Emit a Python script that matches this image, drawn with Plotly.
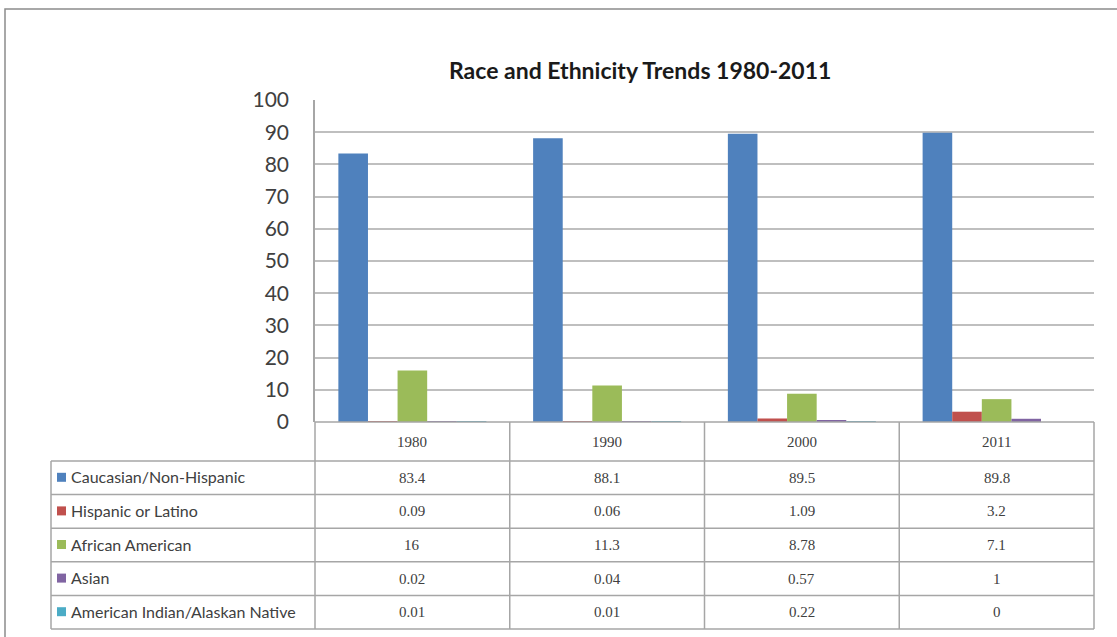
import plotly.graph_objects as go

# ---- data ----
years = ["1980", "1990", "2000", "2011"]
caucasian = [83.4, 88.1, 89.5, 89.8]
hispanic = [0.09, 0.06, 1.09, 3.2]
african_american = [16, 11.3, 8.78, 7.1]
asian = [0.02, 0.04, 0.57, 1]
american_indian = [0.01, 0.01, 0.22, 0]

series_names = [
    "Caucasian/Non-Hispanic",
    "Hispanic or Latino",
    "African American",
    "Asian",
    "American Indian/Alaskan Native",
]
series_values = [caucasian, hispanic, african_american, asian, american_indian]
series_colors = ["#4F81BD", "#C0504D", "#9BBB59", "#8064A2", "#4BACC6"]
y_ticks = list(range(0, 101, 10))
title_text = "Race and Ethnicity Trends 1980-2011"

# ---- geometry (pixels) ----
W, H = 1117, 637
L, R, T, B = 315, 1094, 100, 422  # plot area


def px(x):
    return (x - L) / (R - L)


def py(y):
    return (B - y) / (B - T)


GRID = "#BFBFBF"
LINE = "#A6A6A6"
TXT = "#404040"

fig = go.Figure()
for name, vals, col in zip(series_names, series_values, series_colors):
    fig.add_trace(go.Bar(x=years, y=vals, name=name, marker=dict(color=col, line=dict(width=0))))

shapes = []
annotations = []

# outer chart border (right and bottom edges run off the page)
shapes.append(dict(type="rect", xref="paper", yref="paper",
                   x0=px(5), x1=px(1125), y0=py(9), y1=py(660),
                   line=dict(color="#8C8C8C", width=1.5), fillcolor="rgba(0,0,0,0)"))

# data table
row_top = 461
row_h = 33.6
n_rows = len(series_names)
table_bottom = row_top + row_h * n_rows
left_x = 51

# horizontal lines
shapes.append(dict(type="line", xref="paper", yref="paper", x0=0, x1=1, y0=py(B), y1=py(B),
                   line=dict(color=LINE, width=1.5)))
for i in range(n_rows + 1):
    yy = row_top + i * row_h
    shapes.append(dict(type="line", xref="paper", yref="paper", x0=px(left_x), x1=1,
                       y0=py(yy), y1=py(yy), line=dict(color=LINE, width=1.5)))
# vertical lines
shapes.append(dict(type="line", xref="paper", yref="paper", x0=px(left_x), x1=px(left_x),
                   y0=py(row_top), y1=py(table_bottom), line=dict(color=LINE, width=1.5)))
for k in range(len(years) + 1):
    xx = k / len(years)
    shapes.append(dict(type="line", xref="paper", yref="paper", x0=xx, x1=xx,
                       y0=py(B), y1=py(table_bottom), line=dict(color=LINE, width=1.5)))

# header years
for k, yr in enumerate(years):
    annotations.append(dict(x=(k + 0.5) / len(years), y=py(442), xref="paper", yref="paper",
                            text=yr, showarrow=False, xanchor="center", yanchor="middle",
                            font=dict(family="Liberation Serif", size=15, color=TXT)))

# rows: legend key, series name, values
for i, (name, vals, col) in enumerate(zip(series_names, series_values, series_colors)):
    cy = row_top + i * row_h + row_h / 2
    shapes.append(dict(type="rect", xref="paper", yref="paper",
                       x0=px(57), x1=px(66), y0=py(cy - 5), y1=py(cy + 4),
                       line=dict(width=0), fillcolor=col))
    annotations.append(dict(x=px(69), y=py(cy - 1), xref="paper", yref="paper",
                            text=name, showarrow=False, xanchor="left", yanchor="middle",
                            font=dict(family="Lato", size=16, color=TXT)))
    for k, v in enumerate(vals):
        annotations.append(dict(x=(k + 0.5) / len(years), y=py(cy), xref="paper", yref="paper",
                                text=f"{v:g}", showarrow=False, xanchor="center", yanchor="middle",
                                font=dict(family="Liberation Serif", size=15, color=TXT)))

# title
annotations.append(dict(x=px(640), y=py(70), xref="paper", yref="paper",
                        text=f"<b>{title_text}</b>", showarrow=False,
                        xanchor="center", yanchor="middle",
                        font=dict(family="Lato", size=23, color="#1A1A1A")))

fig.update_layout(
    width=W, height=H,
    margin=dict(l=L, r=W - R, t=T, b=H - B, pad=0),
    paper_bgcolor="white", plot_bgcolor="white",
    barmode="group", bargap=0.24, bargroupgap=0,
    showlegend=False,
    shapes=shapes, annotations=annotations,
    xaxis=dict(type="category", showticklabels=False, showgrid=False, zeroline=False,
               showline=False, ticks=""),
    yaxis=dict(range=[0, 100], tickvals=y_ticks, showgrid=True, gridcolor=GRID, gridwidth=1.5,
               zeroline=False, showline=True, linecolor=LINE, linewidth=1.5, ticks="",
               ticklabelstandoff=20,
               tickfont=dict(family="Lato", size=21, color=TXT)),
)

fig.write_html("out.html")
